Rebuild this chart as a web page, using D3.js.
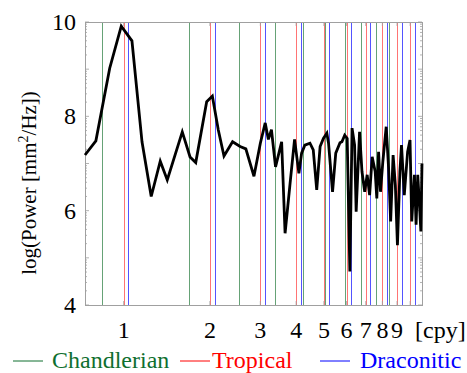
<!DOCTYPE html>
<html>
<head>
<meta charset="utf-8">
<script src="https://cdn.jsdelivr.net/npm/d3@7"></script>
<style>
  body { margin: 0; background: #fff; }
  svg text { font-family: 'Liberation Serif', 'Times New Roman', 'DejaVu Serif', serif; }
</style>
</head>
<body>
<div id="chart"></div>
<script>
// frequency [cpy] of each spectrum point
var freq = [0.733, 0.80, 0.894, 0.981, 1.069, 1.159, 1.248, 1.342, 1.42, 1.602,
  1.705, 1.785, 1.949, 2.04, 2.14, 2.24, 2.40, 2.55, 2.67, 2.85,
  3.0, 3.12, 3.20, 3.28, 3.39, 3.56, 3.66, 3.81, 3.95, 4.09,
  4.18, 4.29, 4.47, 4.59, 4.72, 4.85, 4.98, 5.12, 5.19, 5.36,
  5.50, 5.69, 5.78, 5.91, 6.03, 6.16, 6.27, 6.40, 6.48, 6.66,
  6.79, 6.94, 7.08, 7.22, 7.37, 7.55, 7.65, 7.76, 7.88, 8.03,
  8.25, 8.41, 8.55, 8.72, 8.88, 9.03, 9.21, 9.33, 9.54, 9.80,
  9.99, 10.13, 10.35, 10.49, 10.63, 10.78, 10.90, 11.0];

// log(power) at each frequency
var power = [7.18, 7.48, 9.02, 9.91, 9.60, 7.46, 6.30, 7.05, 6.65, 7.67,
  7.14, 7.02, 8.31, 8.43, 7.71, 7.16, 7.46, 7.36, 7.31, 6.73,
  7.43, 7.86, 7.51, 7.72, 6.93, 7.46, 5.52, 6.58, 7.51, 6.79,
  7.22, 7.39, 7.43, 7.29, 6.44, 7.36, 7.53, 7.64, 7.43, 6.40,
  7.22, 7.44, 7.46, 7.60, 7.53, 4.71, 7.75, 7.39, 5.98, 7.67,
  6.83, 6.40, 6.76, 6.33, 7.14, 6.83, 6.26, 7.25, 6.40, 7.04,
  7.78, 6.90, 5.77, 7.18, 6.54, 5.27, 6.83, 7.39, 6.33, 7.25,
  7.50, 5.77, 6.76, 5.70, 6.76, 6.12, 5.56, 7.00];

// harmonic marker lines [cpy]
var chandlerian = [0.843, 1.686, 2.529, 3.372, 4.215, 5.058, 5.901, 6.744, 7.587, 8.43];
var tropical = [1, 2, 3, 4, 5, 6, 7, 8, 9, 10];
var draconitic = [1.038, 2.076, 3.114, 4.152, 5.19, 6.228, 7.266, 8.304, 9.342, 10.38];

var xTicks = [1, 2, 3, 4, 5, 6, 7, 8, 9, 10];
var xTickLabels = ['1', '2', '3', '4', '5', '6', '7', '8', '9', ''];
var yTicks = [4, 5, 6, 7, 8, 9, 10];
var yTickLabels = [4, 6, 8, 10];

var width = 467, height = 373;
var margin = { top: 22, right: 45, bottom: 68, left: 85 };
var w = width - margin.left - margin.right;
var h = height - margin.top - margin.bottom;

var svg = d3.select('#chart').append('svg')
  .attr('width', width)
  .attr('height', height)
  .style('display', 'block');

var g = svg.append('g')
  .attr('transform', 'translate(' + margin.left + ',' + margin.top + ')');

var x = d3.scaleLog().domain([0.733, 11.0]).range([0, w]);
var y = d3.scaleLinear().domain([4, 10]).range([h, 0]);

// vertical marker lines
function markers(vals, color) {
  g.append('g').selectAll('line')
    .data(vals)
    .enter().append('line')
    .attr('x1', function(d) { return Math.round(x(d)) + 0.5; })
    .attr('x2', function(d) { return Math.round(x(d)) + 0.5; })
    .attr('y1', 0)
    .attr('y2', h)
    .attr('stroke', color)
    .attr('stroke-width', 1);
}
markers(chandlerian, '#66a276');
markers(tropical, '#ff7474');
markers(draconitic, '#5454ff');

// frame
g.append('rect')
  .attr('x', 0.5).attr('y', 0.5)
  .attr('width', w).attr('height', h)
  .attr('fill', 'none')
  .attr('stroke', '#a0a0a0');

// y ticks, log style: majors at each exponent, minors at m*10^k
var minor = [];
yTicks.slice(0, -1).forEach(function(k) {
  for (var m = 2; m <= 9; m++) minor.push(k + Math.log10(m));
});
var tickG = g.append('g').attr('stroke', '#a0a0a0').attr('stroke-width', 0.8);
yTicks.forEach(function(t) {
  tickG.append('line').attr('x1', 0).attr('x2', 4).attr('y1', y(t)).attr('y2', y(t));
  tickG.append('line').attr('x1', w).attr('x2', w - 4).attr('y1', y(t)).attr('y2', y(t));
});
minor.forEach(function(t) {
  tickG.append('line').attr('x1', 0).attr('x2', 2).attr('y1', y(t)).attr('y2', y(t));
  tickG.append('line').attr('x1', w).attr('x2', w - 2).attr('y1', y(t)).attr('y2', y(t));
});
xTicks.forEach(function(t) {
  tickG.append('line').attr('x1', x(t)).attr('x2', x(t)).attr('y1', h).attr('y2', h - 4);
  tickG.append('line').attr('x1', x(t)).attr('x2', x(t)).attr('y1', 0).attr('y2', 4);
});

// tick labels
g.append('g').selectAll('text')
  .data(yTickLabels)
  .enter().append('text')
  .attr('x', -9)
  .attr('y', function(d) { return y(d); })
  .attr('dy', '0.34em')
  .attr('text-anchor', 'end')
  .style('font-size', '24px')
  .text(function(d) { return d; });

g.append('g').selectAll('text')
  .data(xTicks)
  .enter().append('text')
  .attr('x', function(d) { return x(d); })
  .attr('y', h + 33)
  .attr('text-anchor', 'middle')
  .style('font-size', '24px')
  .text(function(d, i) { return xTickLabels[i]; });

svg.append('text')
  .attr('x', 415)
  .attr('y', margin.top + h + 33)
  .style('font-size', '24px')
  .text('[cpy]');

// y title
svg.append('text')
  .attr('transform', 'translate(36,183) rotate(-90)')
  .attr('text-anchor', 'middle')
  .style('font-size', '21px')
  .html('log(Power [mm<tspan dy="-8" style="font-size:14px">2</tspan><tspan dy="8">/Hz])</tspan>');

// spectrum
var pts = freq.map(function(f, i) { return [f, power[i]]; });
g.append('path')
  .datum(pts)
  .attr('fill', 'none')
  .attr('stroke', '#000')
  .attr('stroke-width', 2.8)
  .attr('d', d3.line()
    .x(function(d) { return x(d[0]); })
    .y(function(d) { return y(d[1]); }));

// legend
var legend = [
  { label: 'Chandlerian', color: '#0f6f2f', x: 13, tx: 52 },
  { label: 'Tropical', color: '#ff0000', x: 180, tx: 212 },
  { label: 'Draconitic', color: '#0000ff', x: 320, tx: 360 }
];
var lg = svg.append('g');
legend.forEach(function(d) {
  lg.append('line')
    .attr('x1', d.x).attr('x2', d.x + 30)
    .attr('y1', 361).attr('y2', 361)
    .attr('stroke', d.color).attr('stroke-width', 1);
  lg.append('text')
    .attr('x', d.tx)
    .attr('y', 368)
    .attr('fill', d.color)
    .style('font-size', '24px')
    .text(d.label);
});
</script>
</body>
</html>
